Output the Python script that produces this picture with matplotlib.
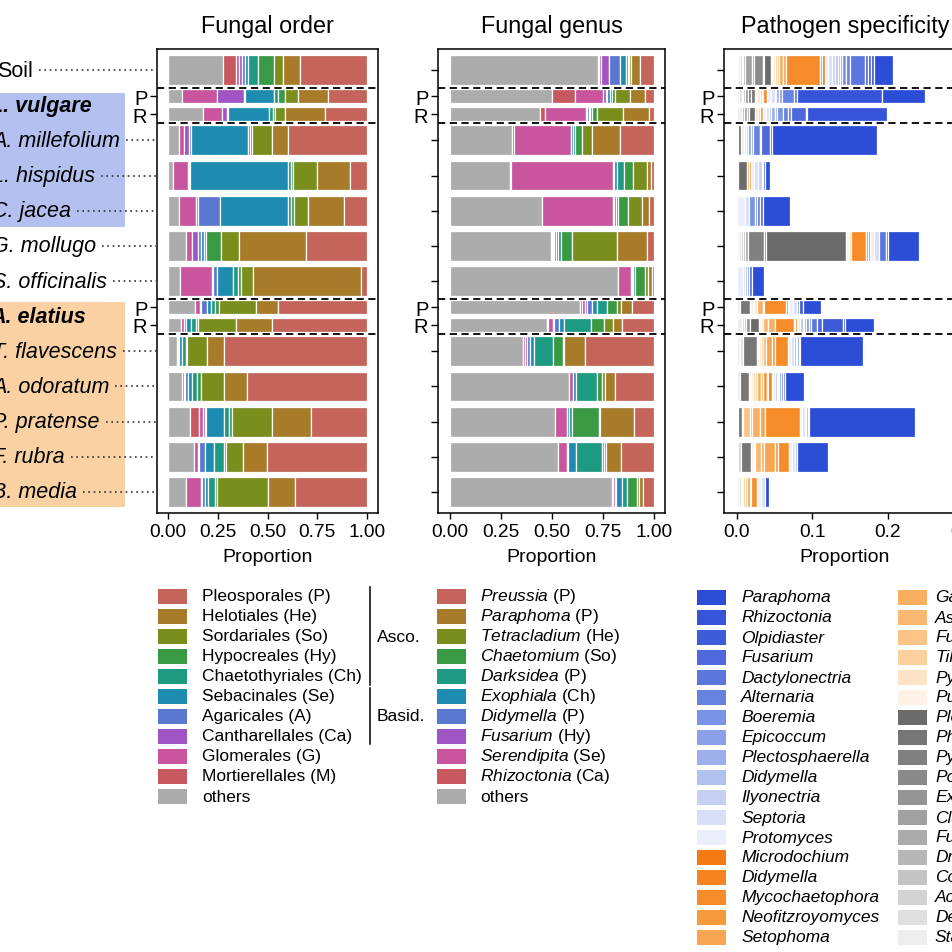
import numpy as np
import matplotlib
matplotlib.use("Agg")
import matplotlib.pyplot as plt
import matplotlib.transforms as mtrans
from matplotlib.patches import Rectangle
from matplotlib.lines import Line2D

plt.rcParams['font.family'] = ['Liberation Sans', 'DejaVu Sans']
plt.rcParams['mathtext.fontset'] = 'custom'
plt.rcParams['mathtext.rm'] = 'Liberation Sans'
plt.rcParams['mathtext.it'] = 'Liberation Sans:italic'

# rows top to bottom; "P"/"R" are the half-height pooled rows of a plant group
rows = ["Soil", "P", "R", "A. millefolium", "L. hispidus", "C. jacea", "G. mollugo",
        "S. officinalis", "P", "R", "T. flavescens", "A. odoratum", "P. pratense",
        "F. rubra", "B. media"]
group_labels = ["L. vulgare", "A. elatius"]

order_labels = ["Pleosporales (P)", "Helotiales (He)", "Sordariales (So)", "Hypocreales (Hy)",
                "Chaetothyriales (Ch)", "Sebacinales (Se)", "Agaricales (A)",
                "Cantharellales (Ca)", "Glomerales (G)", "Mortierellales (M)", "others"]
genus_labels = [r"$\mathit{Preussia}$ (P)", r"$\mathit{Paraphoma}$ (P)",
                r"$\mathit{Tetracladium}$ (He)", r"$\mathit{Chaetomium}$ (So)",
                r"$\mathit{Darksidea}$ (P)", r"$\mathit{Exophiala}$ (Ch)",
                r"$\mathit{Didymella}$ (P)", r"$\mathit{Fusarium}$ (Hy)",
                r"$\mathit{Serendipita}$ (Se)", r"$\mathit{Rhizoctonia}$ (Ca)", "others"]
palette = ["#C5645A", "#A87B2A", "#7A8E1E", "#3A9A44", "#1E9A82", "#1E8CB0",
           "#5A78D0", "#A055C5", "#C8559E", "#C8585F", "#ACACAC"]

# proportions per row, columns in legend order
order_props = [
    [.337, .083, .048, .082, .050, .015, .015, .012, .016, .067, .275],
    [.198, .150, .064, .036, .017, .150, .005, .135, .173, 0, .072],
    [.210, .200, .050, .012, .020, .205, .005, .028, .092, 0, .178],
    [.395, .080, .105, .010, .010, .285, .010, .025, .025, 0, .055],
    [.088, .165, .118, .012, .012, .495, .005, .005, .075, 0, .025],
    [.115, .180, .072, .015, .015, .340, .110, .010, .090, 0, .053],
    [.308, .335, .090, .075, .010, .015, .015, .030, .030, 0, .092],
    [.030, .545, .060, .015, .025, .080, .018, .005, .159, 0, .063],
    [.445, .113, .187, .020, .020, .020, .030, .005, .022, 0, .138],
    [.475, .185, .190, .010, .025, .025, .010, 0, .013, 0, .067],
    [.717, .088, .100, .005, .020, .013, .005, 0, .005, 0, .047],
    [.602, .118, .112, .020, .025, .020, .015, .008, .008, 0, .072],
    [.280, .195, .205, .015, .022, .090, .005, .010, .020, .045, .113],
    [.505, .117, .085, .010, .050, .045, .030, .005, .020, 0, .133],
    [.360, .140, .255, .008, .035, .015, .015, .005, .075, 0, .092],
]
genus_props = [
    [.068, .045, .008, .008, .008, .030, .053, .040, .010, .003, .727],
    [.045, .075, .072, .012, .014, .010, .008, .014, .136, .112, .502],
    [.025, .128, .125, .025, .010, .008, .005, .008, .200, .025, .441],
    [.166, .140, .045, .035, .010, .010, 0, 0, .280, .008, .306],
    [.016, .020, .065, .045, .035, .015, .005, 0, .500, .005, .294],
    [.025, .035, .065, .050, .010, .012, .005, 0, .345, 0, .453],
    [.033, .150, .217, .055, .015, .008, .012, .004, .005, .008, .493],
    [.010, .020, .015, .050, .010, .005, .005, 0, .060, 0, .825],
    [.110, .053, .020, .049, .046, .025, .025, .010, .015, .010, .637],
    [.158, .042, .045, .065, .131, .025, .025, .005, .025, .005, .474],
    [.338, .105, .005, .045, .096, .020, .015, .008, .008, 0, .360],
    [.190, .050, .015, .025, .100, .015, 0, 0, .020, 0, .585],
    [.100, .165, .005, .130, .015, .010, 0, 0, .060, 0, .515],
    [.163, .070, .012, .012, .125, .040, .005, 0, .045, 0, .528],
    [.053, .020, .010, .050, .025, .030, .005, 0, .010, .005, .792],
]

# pathogen genera, grouped by specificity
path_blue_names = ["Paraphoma", "Rhizoctonia", "Olpidiaster", "Fusarium", "Dactylonectria",
                   "Alternaria", "Boeremia", "Epicoccum", "Plectosphaerella", "Didymella",
                   "Ilyonectria", "Septoria", "Protomyces"]
path_orange_names = ["Microdochium", "Didymella", "Mycochaetophora", "Neofitzroyomyces",
                     "Setophoma", "Gaeumannomyces", "Ascochyta", "Fusicolla", "Tilletia",
                     "Pyrenophora", "Puccinia"]
path_gray_names = ["Plenodomus", "Phaeosphaeria", "Pyrenochaeta", "Podospora", "Exserohilum",
                   "Cladosporium", "Fusicladium", "Drechslera", "Colletotrichum", "Acremonium",
                   "Dendryphion", "Stagonospora"]
path_blue_colors = ["#2C4ED6", "#3554D8", "#3F5CD8", "#4D69DB", "#5B77DE", "#6683E0", "#7A93E4",
                    "#8AA0E8", "#9DB0EB", "#B2C2EF", "#C5D0F3", "#D8DFF7", "#ECEFFB"]
path_orange_colors = ["#F47A14", "#F5831E", "#F58C29", "#F69A3E", "#F7A552", "#F8AF62",
                      "#F9B872", "#FAC486", "#FBD09E", "#FDE4C7", "#FEF2E6"]
path_gray_colors = ["#6B6B6B", "#767676", "#808080", "#8A8A8A", "#959595", "#A0A0A0",
                    "#ABABAB", "#B7B7B7", "#C4C4C4", "#D2D2D2", "#E0E0E0", "#EEEEEE"]

path_blue = [
    [.024, .004, .004, .005, .019, .005, .006, .002, .003, .004, .004, .005, .004],
    [.057, .113, 0, 0, .003, .017, 0, .003, .004, 0, .002, .005, .005],
    [0, .106, .002, .019, .004, .007, .008, .002, .006, .002, 0, .004, .005],
    [.138, 0, .003, .012, .002, .009, .002, .004, 0, 0, .003, .003, .004],
    [.007, 0, .002, .002, 0, 0, 0, 0, 0, 0, .005, .005, .005],
    [.036, 0, 0, .004, .003, .003, .008, 0, 0, 0, 0, .006, .010],
    [.041, 0, .003, 0, .009, 0, 0, 0, 0, 0, 0, .006, .006],
    [.016, 0, 0, .004, 0, 0, .003, 0, .002, 0, 0, .003, .008],
    [.023, 0, .006, 0, 0, 0, .003, 0, 0, 0, 0, .005, .005],
    [.039, .002, .028, .007, .008, .002, .004, .003, .002, .004, 0, .002, .002],
    [.083, 0, 0, 0, 0, .002, .002, .002, .002, 0, 0, .004, .004],
    [.025, 0, 0, 0, .003, .003, .002, .002, .0015, .002, 0, .0025, .002],
    [.141, 0, 0, 0, 0, 0, 0, .001, .002, .002, 0, .004, .003],
    [.041, 0, 0, 0, 0, 0, 0, 0, .002, 0, 0, .004, .004],
    [.0055, 0, 0, 0, 0, 0, 0, 0, 0, 0, 0, .005, .005],
]
path_orange = [
    [.004, .003, .045, 0, .004, .005, .003, .003, 0, .002, .003],
    [0, 0, .005, 0, 0, 0, .002, .003, 0, .003, .003],
    [0, 0, 0, .003, 0, 0, 0, .003, 0, .004, 0],
    [0, 0, 0, 0, 0, 0, 0, 0, 0, 0, 0],
    [0, 0, .002, 0, 0, .003, 0, 0, 0, 0, 0],
    [0, 0, 0, 0, 0, 0, 0, 0, 0, 0, 0],
    [.003, .002, .020, 0, 0, 0, 0, 0, .003, 0, .003],
    [0, 0, 0, 0, 0, 0, 0, 0, 0, 0, 0],
    [.002, .002, .029, 0, .002, .007, 0, 0, 0, .005, .005],
    [.002, .002, .025, 0, 0, .009, .006, 0, 0, .003, .003],
    [0, 0, .018, .003, .008, 0, .004, .003, 0, .003, .003],
    [0, .005, .001, .005, .003, .006, .002, .003, 0, .002, .003],
    [0, 0, .046, 0, .006, .011, .003, .009, 0, 0, .002],
    [0, 0, .015, .003, .0155, .0035, .008, 0, 0, .002, .003],
    [0, 0, .008, .002, .004, 0, .002, .003, 0, 0, .003],
]
path_gray = [
    [.009, .002, 0, .011, .003, .009, .003, .002, 0, .002, .002, .002],
    [0, .006, .004, 0, .003, 0, 0, .003, 0, .002, .003, .003],
    [.008, 0, 0, 0, .003, .004, .003, 0, 0, 0, 0, .006],
    [.0035, 0, 0, 0, 0, 0, 0, 0, 0, 0, 0, .0015],
    [.012, 0, 0, 0, 0, 0, 0, 0, 0, 0, 0, .001],
    [0, 0, 0, 0, 0, 0, 0, 0, 0, 0, 0, 0],
    [.107, .0025, .0205, 0, 0, 0, .0045, .003, .0025, .002, 0, .003],
    [0, 0, 0, 0, 0, 0, 0, 0, 0, 0, 0, 0],
    [0, .013, 0, 0, 0, 0, 0, 0, 0, 0, 0, .004],
    [.012, 0, 0, 0, .005, 0, 0, .003, 0, .003, 0, .006],
    [0, .018, 0, 0, 0, 0, 0, 0, 0, 0, .004, .004],
    [0, .012, 0, 0, 0, 0, 0, 0, 0, 0, 0, .004],
    [0, .005, 0, 0, 0, 0, 0, 0, 0, 0, 0, .001],
    [0, .014, 0, 0, 0, 0, 0, 0, 0, .003, 0, .002],
    [0, 0, 0, 0, 0, 0, 0, 0, 0, .002, 0, .003],
]

W = H = 953
fig = plt.figure(figsize=(W / 100, H / 100), dpi=100)

# vertical layout: full rows take one slot, a P/R pair shares one slot
half = [r in ("P", "R") for r in rows]
ypos, heights, group_slots = [], [], []
slot, i = 0, 0
while i < len(rows):
    if half[i]:
        ypos += [slot - 0.25, slot + 0.25]
        heights += [0.4, 0.4]
        group_slots.append(slot)
        i += 2
    else:
        ypos.append(slot)
        heights.append(0.85)
        i += 1
    slot += 1
dash_y = [s + d for s in group_slots for d in (-0.5, 0.5)]


def panel(x0, x1):
    return fig.add_axes([x0 / W, 1 - 514 / H, (x1 - x0) / W, 464 / H])


def stacked(ax, props, colors):
    for y, h, row in zip(ypos, heights, props):
        left = 0.0
        for k in reversed(range(len(row))):
            if row[k] > 0:
                ax.barh(y, row[k], left=left, height=h, color=colors[k],
                        edgecolor="white", linewidth=0.9)
            left += row[k]


def style(ax, title, xlim, ticks, ticklabels):
    ax.set_xlim(*xlim)
    ax.set_ylim(12.6, -0.6)
    ax.set_xticks(ticks)
    ax.set_xticklabels(ticklabels)
    ax.set_title(title, fontsize=16.8, pad=12)
    ax.set_xlabel("Proportion", fontsize=14, labelpad=6)
    ax.tick_params(axis="x", length=4, width=1, labelsize=13.8, pad=3)
    ax.tick_params(axis="y", length=5, width=1, labelsize=14.5, pad=2)
    for sp in ax.spines.values():
        sp.set_linewidth(1.1)
    for y in dash_y:
        ax.axhline(y, color="black", lw=1.3, ls=(0, (4, 2.5)), zorder=3)


ax1 = panel(157, 378)
ax2 = panel(438, 665)
ax3 = panel(724, 966)

stacked(ax1, order_props, palette)
stacked(ax2, genus_props, palette)
path_props = [b + o + g for b, o, g in zip(path_blue, path_orange, path_gray)]
path_colors = path_blue_colors + path_orange_colors + path_gray_colors
stacked(ax3, path_props, path_colors)

prop_ticks = [0, 0.25, 0.5, 0.75, 1.0]
prop_labels = ["0.00", "0.25", "0.50", "0.75", "1.00"]
style(ax1, "Fungal order", (-0.055, 1.055), prop_ticks, prop_labels)
style(ax2, "Fungal genus", (-0.0588, 1.054), prop_ticks, prop_labels)
style(ax3, "Pathogen specificity", (-0.0172, 0.3033), [0, 0.1, 0.2, 0.3],
      ["0.0", "0.1", "0.2", "0.3"])

pr_pos = [y for y, hf in zip(ypos, half) if hf]
pr_lab = [r for r, hf in zip(rows, half) if hf]
ax1.set_yticks(pr_pos)
ax1.set_yticklabels(pr_lab)
for ax in (ax2, ax3):
    ax.set_yticks(ypos)
    ax.set_yticklabels([r if hf else "" for r, hf in zip(rows, half)])

# left row labels with coloured group boxes and dotted leaders
tr = mtrans.blended_transform_factory(fig.transFigure, ax1.transData)
fig.add_artist(Rectangle((-0.02, 0.65), (125 + 19) / W, 4.47 - 0.65,
                         transform=tr, color="#B4C1F0", lw=0, zorder=0))
fig.add_artist(Rectangle((-0.02, 6.6), (125 + 19) / W, 12.43 - 6.6,
                         transform=tr, color="#FAD1A3", lw=0, zorder=0))

side_texts = []
for r, hf, y in zip(rows, half, ypos):
    if hf:
        continue
    if r == "Soil":
        t = fig.text(-3 / W, y, r, transform=tr, fontsize=15.5, va="center", ha="left")
    else:
        t = fig.text(-8 / W, y, r, transform=tr, fontsize=15.5, va="center", ha="left",
                     style="italic")
    side_texts.append((t, y))
for g, s in zip(group_labels, group_slots):
    fig.text(-10 / W, s, g, transform=tr, fontsize=15.5, va="center", ha="left",
             style="italic", weight="bold")

fig.canvas.draw()
renderer = fig.canvas.get_renderer()
for t, y in side_texts:
    bb = t.get_window_extent(renderer)
    x_start = (bb.x1 + 6) / fig.bbox.width
    fig.add_artist(Line2D([x_start, 156 / W], [y, y], transform=tr, color="#333333",
                          lw=1.2, ls=(0, (1, 2.2))))


# legends drawn as swatch + label columns (pixel positions)
def legend_col(x_sw, x_txt, y0, labels, colors, italic=False):
    for k, (lab, c) in enumerate(zip(labels, colors)):
        yc = y0 + 20 * k
        fig.add_artist(Rectangle((x_sw / W, 1 - (yc + 7.5) / H), 29 / W, 15 / H,
                                 transform=fig.transFigure, color=c, lw=0))
        fig.text(x_txt / W, 1 - yc / H, lab, fontsize=12.5, va="center", ha="left",
                 style="italic" if italic else "normal")


legend_col(158, 202, 597, order_labels, palette)
legend_col(437, 480, 597, genus_labels, palette)
path_names = path_blue_names + path_orange_names + path_gray_names
legend_col(697, 741, 598, path_names[:18], path_colors[:18], italic=True)
legend_col(898, 935, 598, path_names[18:], path_colors[18:], italic=True)

# phylum brackets
fig.add_artist(Line2D([370 / W] * 2, [1 - 588 / H, 1 - 686 / H], color="black", lw=1.1))
fig.add_artist(Line2D([370 / W] * 2, [1 - 689 / H, 1 - 745 / H], color="black", lw=1.1))
fig.text(377 / W, 1 - 637 / H, "Asco.", fontsize=12.5, va="center", ha="left")
fig.text(377 / W, 1 - 717 / H, "Basid.", fontsize=12.5, va="center", ha="left")

fig.savefig("out.png", dpi=100)
